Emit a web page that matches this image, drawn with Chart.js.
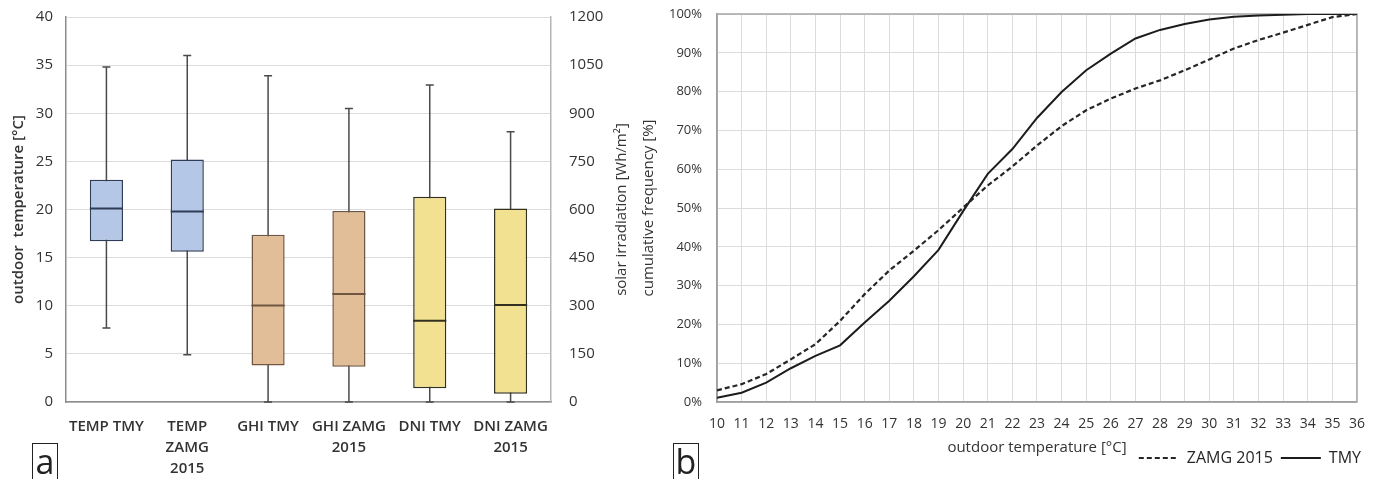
<!DOCTYPE html>
<html>
<head>
<meta charset="utf-8">
<title>Outdoor temperature and solar irradiation</title>
<script src="https://cdn.jsdelivr.net/npm/chart.js@4.4.1/dist/chart.umd.min.js"></script>
<style>
  html, body { margin: 0; padding: 0; background: #fff; }
  body { width: 1379px; height: 479px; position: relative; overflow: hidden; font-family: "Open Sans", sans-serif; }
  .panel { position: absolute; top: 0; height: 479px; }
  #panelA { left: 0; width: 640px; }
  #panelB { left: 630px; width: 749px; }
  .tag {
    position: absolute; top: 443px; width: 26px; height: 44px;
    border: 1.5px solid #222; box-sizing: border-box;
    font-family: "Open Sans", sans-serif; font-size: 34px; line-height: 34px;
    text-align: center; color: #222;
  }
</style>
</head>
<body>
<div class="panel" id="panelA"><canvas id="boxChart" width="640" height="479"></canvas></div>
<div class="panel" id="panelB"><canvas id="cumChart" width="749" height="479"></canvas></div>
<div class="tag" style="left:32px">a</div>
<div class="tag" style="left:673px">b</div>

<script>
// ---- panel a: box plots ----
const boxLabels = ['TEMP TMY', ['TEMP', 'ZAMG', '2015'], 'GHI TMY', ['GHI ZAMG', '2015'], 'DNI TMY', ['DNI ZAMG', '2015']];

// outdoor temperature [°C] (TEMP TMY, TEMP ZAMG 2015)
const tempMin    = [7.7, 4.9];
const tempQ1     = [16.7, 15.6];
const tempMedian = [20.1, 19.8];
const tempQ3     = [23.1, 25.2];
const tempMax    = [34.8, 36.0];

// solar irradiation [Wh/m²] (GHI TMY, GHI ZAMG 2015, DNI TMY, DNI ZAMG 2015)
const irrMin    = [0, 0, 0, 0];
const irrQ1     = [114, 110, 43, 26];
const irrMedian = [301, 337, 253, 302];
const irrQ3     = [521, 595, 640, 603];
const irrMax    = [1017, 915, 988, 842];

// ---- panel b: cumulative frequency ----
const tempSteps = ['10','11','12','13','14','15','16','17','18','19','20','21','22','23','24','25','26','27','28','29','30','31','32','33','34','35','36'];
const freqZamg = [3.0, 4.6, 7.2, 11.0, 14.9, 20.9, 27.8, 33.9, 39.0, 44.3, 50.1, 55.8, 60.7, 66.1, 71.1, 75.2, 78.2, 80.8, 82.9, 85.5, 88.3, 91.1, 93.3, 95.2, 97.2, 99.2, 100];
const freqTmy  = [1.1, 2.4, 5.0, 8.7, 11.9, 14.6, 20.5, 26.1, 32.4, 39.2, 49.2, 58.8, 65.2, 73.2, 79.9, 85.5, 89.8, 93.7, 95.9, 97.4, 98.6, 99.3, 99.6, 99.8, 100, 100, 100];

const FONT = '"Open Sans", sans-serif';
const TEXT = '#333333';

// helpers to place a group of boxes into the six category slots
function slot(values, before, after) {
  return [...Array(before).fill(null), ...values, ...Array(after).fill(null)];
}
function stats(mins, meds, maxs) {
  return mins.map((m, i) => ({ min: m, median: meds[i], max: maxs[i] }));
}
// fixed axis thickness; label overhang is left to the layout padding
function fixWidth(w) {
  return s => { s.width = w; s.paddingTop = 0; s.paddingBottom = 0; };
}

// whiskers behind the boxes, median strokes on top
const boxWhiskers = {
  id: 'boxWhiskers',
  beforeDatasetsDraw(chart) {
    const ctx = chart.ctx;
    chart.data.datasets.forEach((ds, di) => {
      const meta = chart.getDatasetMeta(di);
      const yScale = chart.scales[meta.yAxisID];
      ds.stats.forEach((s, i) => {
        if (!s) return;
        const x = meta.data[i].getProps(['x']).x;
        const yLo = yScale.getPixelForValue(s.min);
        const yHi = yScale.getPixelForValue(s.max);
        ctx.save();
        ctx.strokeStyle = '#4a4a4a';
        ctx.lineWidth = 1.5;
        ctx.beginPath();
        ctx.moveTo(x, yLo); ctx.lineTo(x, yHi);
        ctx.moveTo(x - 4, yHi); ctx.lineTo(x + 4, yHi);
        ctx.moveTo(x - 4, yLo); ctx.lineTo(x + 4, yLo);
        ctx.stroke();
        ctx.restore();
      });
    });
  },
  afterDatasetsDraw(chart) {
    const ctx = chart.ctx;
    chart.data.datasets.forEach((ds, di) => {
      const meta = chart.getDatasetMeta(di);
      const yScale = chart.scales[meta.yAxisID];
      ds.stats.forEach((s, i) => {
        if (!s) return;
        const { x, width } = meta.data[i].getProps(['x', 'width']);
        const y = yScale.getPixelForValue(s.median);
        ctx.save();
        ctx.strokeStyle = ds.borderColor[i];
        ctx.lineWidth = 2;
        ctx.beginPath();
        ctx.moveTo(x - width / 2, y); ctx.lineTo(x + width / 2, y);
        ctx.stroke();
        ctx.restore();
      });
    });
  }
};

// rotated caption for the right-hand irradiation axis
const rightCaption = {
  id: 'rightCaption',
  afterDraw(chart, args, opts) {
    const { ctx, chartArea } = chart;
    ctx.save();
    ctx.translate(chartArea.right + opts.offset, (chartArea.top + chartArea.bottom) / 2);
    ctx.rotate(-Math.PI / 2);
    ctx.font = '15px ' + FONT;
    ctx.fillStyle = TEXT;
    ctx.textAlign = 'center';
    ctx.textBaseline = 'middle';
    ctx.fillText(opts.text, 0, 0);
    ctx.restore();
  }
};

const blue = '#b4c7e7', tan = '#e2be98', yellow = '#f1e190';
const blueEdge = '#2f3c56', tanEdge = '#6f5640', yellowEdge = '#33301f';

new Chart(document.getElementById('boxChart'), {
  type: 'bar',
  data: {
    labels: boxLabels,
    datasets: [
      {
        label: 'outdoor temperature',
        data: slot(tempQ1.map((q, i) => [q, tempQ3[i]]), 0, 4),
        stats: slot(stats(tempMin, tempMedian, tempMax), 0, 4),
        yAxisID: 'y',
        backgroundColor: [blue, blue, null, null, null, null],
        borderColor: [blueEdge, blueEdge, null, null, null, null],
        borderWidth: 1.5,
        borderSkipped: false,
        grouped: false,
        barPercentage: 0.41,
        categoryPercentage: 1
      },
      {
        label: 'solar irradiation',
        data: slot(irrQ1.map((q, i) => [q, irrQ3[i]]), 2, 0),
        stats: slot(stats(irrMin, irrMedian, irrMax), 2, 0),
        yAxisID: 'y1',
        backgroundColor: [null, null, tan, tan, yellow, yellow],
        borderColor: [null, null, tanEdge, tanEdge, yellowEdge, yellowEdge],
        borderWidth: 1.5,
        borderSkipped: false,
        grouped: false,
        barPercentage: 0.41,
        categoryPercentage: 1
      }
    ]
  },
  options: {
    responsive: false,
    devicePixelRatio: 1,
    animation: false,
    events: [],
    layout: { padding: { top: 17, right: 0, bottom: 0, left: 0 } },
    plugins: {
      legend: { display: false },
      tooltip: { enabled: false },
      rightCaption: { text: 'solar irradiation [Wh/m²]', offset: 71 }
    },
    scales: {
      x: {
        grid: { display: false },
        border: { display: true, color: '#8c8c8c', width: 1.5 },
        ticks: {
          color: TEXT, padding: 6, maxRotation: 0, autoSkip: false,
          font: { family: FONT, size: 15, weight: '600', lineHeight: 1.4 }
        },
        afterFit(s) { s.height = 77; }
      },
      y: {
        position: 'left',
        min: 0, max: 40,
        grid: { color: '#dcdcdc', drawTicks: false },
        border: { display: true, color: '#8c8c8c', width: 1.5 },
        ticks: { stepSize: 5, padding: 13, color: TEXT, font: { family: FONT, size: 15 } },
        title: {
          display: true, text: 'outdoor  temperature [°C]', color: TEXT,
          font: { family: FONT, size: 15, weight: '600' }, padding: { top: 10, bottom: 0 }
        },
        afterFit: fixWidth(66)
      },
      y1: {
        position: 'right',
        min: 0, max: 1200,
        grid: { drawOnChartArea: false, drawTicks: false },
        border: { display: true, color: '#b5b5b5', width: 1.5 },
        ticks: { stepSize: 150, padding: 18, color: TEXT, font: { family: FONT, size: 15 }, callback: v => String(v) },
        afterFit: fixWidth(89)
      }
    }
  },
  plugins: [boxWhiskers, rightCaption]
});

// ---- panel b ----
const plotFrame = {
  id: 'plotFrame',
  beforeDatasetsDraw(chart) {
    const { ctx, chartArea: a } = chart;
    ctx.save();
    ctx.strokeStyle = '#a6a6a6';
    ctx.lineWidth = 1.5;
    ctx.strokeRect(a.left, a.top, a.right - a.left, a.bottom - a.top);
    ctx.restore();
  }
};

const xCaption = {
  id: 'xCaption',
  afterDraw(chart, args, opts) {
    const { ctx, chartArea } = chart;
    ctx.save();
    ctx.font = '15px ' + FONT;
    ctx.fillStyle = TEXT;
    ctx.textAlign = 'center';
    ctx.textBaseline = 'middle';
    ctx.fillText(opts.text, (chartArea.left + chartArea.right) / 2, chartArea.bottom + opts.offset);
    ctx.restore();
  }
};

new Chart(document.getElementById('cumChart'), {
  type: 'line',
  data: {
    labels: tempSteps,
    datasets: [
      {
        label: 'ZAMG 2015',
        data: freqZamg,
        borderColor: '#262626',
        borderWidth: 2.2,
        borderDash: [5, 3],
        pointRadius: 0,
        tension: 0,
        fill: false
      },
      {
        label: 'TMY',
        data: freqTmy,
        borderColor: '#1c1c1c',
        borderWidth: 2,
        pointRadius: 0,
        tension: 0,
        fill: false
      }
    ]
  },
  options: {
    responsive: false,
    devicePixelRatio: 1,
    animation: false,
    events: [],
    layout: { padding: { top: 14, right: 10, bottom: 3, left: 0 } },
    plugins: {
      tooltip: { enabled: false },
      legend: {
        position: 'bottom',
        align: 'end',
        labels: {
          usePointStyle: true,
          pointStyle: 'line',
          pointStyleWidth: 40,
          padding: 8,
          color: '#262626',
          font: { family: FONT, size: 16 },
          generateLabels(chart) {
            const items = Chart.defaults.plugins.legend.labels.generateLabels(chart);
            items.forEach(it => {
              const ds = chart.data.datasets[it.datasetIndex];
              it.lineDash = ds.borderDash || [];
              it.lineWidth = ds.borderWidth;
              it.strokeStyle = ds.borderColor;
            });
            return items;
          }
        }
      },
      xCaption: { text: 'outdoor temperature [°C]', offset: 46 }
    },
    scales: {
      x: {
        type: 'category',
        offset: false,
        grid: { color: '#dcdcdc', drawTicks: false },
        border: { display: true, color: '#8c8c8c', width: 1.5 },
        ticks: { autoSkip: false, maxRotation: 0, padding: 14, color: TEXT, font: { family: FONT, size: 14 } },
        afterFit(s) { s.height = 40; }
      },
      y: {
        min: 0, max: 100,
        grid: { color: '#dcdcdc', drawTicks: false },
        border: { display: true, color: '#8c8c8c', width: 1.5 },
        ticks: { stepSize: 10, padding: 15, color: TEXT, font: { family: FONT, size: 13 }, callback: v => v + '%' },
        title: {
          display: true, text: 'cumulative frequency [%]', color: TEXT,
          font: { family: FONT, size: 15 }, padding: { top: 10, bottom: 0 }
        },
        afterFit: fixWidth(87)
      },
      yEdge: {
        position: 'right',
        display: true,
        grid: { display: false, drawTicks: false },
        border: { display: false },
        ticks: { display: false },
        afterFit: fixWidth(10)
      }
    }
  },
  plugins: [plotFrame, xCaption]
});
</script>
</body>
</html>
